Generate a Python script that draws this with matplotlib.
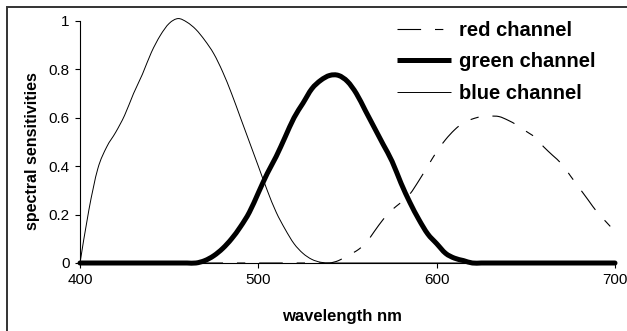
import matplotlib
matplotlib.use("Agg")
import matplotlib.pyplot as plt
import numpy as np
from matplotlib.lines import Line2D
from matplotlib.patches import PathPatch, Rectangle
from matplotlib.path import Path

plt.rcParams["font.family"] = ["Liberation Sans", "DejaVu Sans"]
plt.rcParams["lines.scale_dashes"] = False

# spectral sensitivities, sampled every 5 nm from 400 to 700
wavelength = list(range(400, 705, 5))

blue = [0.00, 0.22, 0.39, 0.48, 0.54, 0.61, 0.70, 0.78, 0.87, 0.94,
        0.99, 1.01, 0.995, 0.965, 0.92, 0.865, 0.79, 0.70, 0.60, 0.50,
        0.40, 0.30, 0.21, 0.14, 0.08, 0.04, 0.015, 0.003, 0.0] + [0.0] * 32

green = [0.0] * 14 + [0.01, 0.03, 0.06, 0.10, 0.15, 0.21, 0.29, 0.37, 0.44,
                      0.52, 0.60, 0.66, 0.72, 0.755, 0.775, 0.775, 0.75, 0.70,
                      0.63, 0.56, 0.49, 0.42, 0.33, 0.25, 0.18, 0.12, 0.08,
                      0.04, 0.02, 0.01, 0.0] + [0.0] * 16

red = [0.0] * 29 + [0.01, 0.03, 0.05, 0.08, 0.13, 0.18, 0.22, 0.25, 0.285,
                    0.34, 0.40, 0.46, 0.51, 0.55, 0.58, 0.595, 0.605, 0.607,
                    0.605, 0.59, 0.57, 0.545, 0.52, 0.48, 0.445, 0.41, 0.36,
                    0.31, 0.26, 0.21, 0.17, 0.13]

x_ticks = [400, 500, 600, 700]
y_ticks = [0, 0.2, 0.4, 0.6, 0.8, 1]
y_tick_labels = ["0", "0.2", "0.4", "0.6", "0.8", "1"]


def smooth_path(x, y):
    # Excel-style smoothed line: Catmull-Rom segments as cubic Bezier curves
    p = np.column_stack([x, y]).astype(float)
    ext = np.vstack([p[0], p, p[-1]])
    verts = [p[0]]
    codes = [Path.MOVETO]
    for i in range(len(p) - 1):
        p0, p1, p2, p3 = ext[i], ext[i + 1], ext[i + 2], ext[i + 3]
        verts += [p1 + (p2 - p0) / 6, p2 - (p3 - p1) / 6, p2]
        codes += [Path.CURVE4] * 3
    return Path(verts, codes)


W, H = 627, 331
fig = plt.figure(figsize=(W / 100, H / 100), dpi=100, facecolor="white")
ax = fig.add_axes([80 / W, 68 / H, 535 / W, 242 / H])

styles = [
    ("red channel", red, dict(lw=0.8, linestyle=(0, (17, 10, 6, 10)))),
    ("green channel", green, dict(lw=3.6, capstyle="round", joinstyle="round")),
    ("blue channel", blue, dict(lw=0.7)),
]
handles = []
for label, values, st in styles:
    ax.add_patch(PathPatch(smooth_path(wavelength, values), fill=False,
                           edgecolor="black", clip_on=False, **st))
    lst = st.get("linestyle", "-")
    handles.append(Line2D([], [], color="black", lw=st["lw"], linestyle=lst,
                          solid_capstyle="butt", label=label))

ax.set_xlim(400, 700)
ax.set_ylim(0, 1)
ax.set_xticks(x_ticks)
ax.set_yticks(y_ticks)
ax.set_yticklabels(y_tick_labels)
ax.tick_params(axis="both", direction="out", length=3.5, width=0.8,
               labelsize=11, colors="black", pad=4)
for side in ("top", "right"):
    ax.spines[side].set_visible(False)
for side in ("left", "bottom"):
    ax.spines[side].set_linewidth(0.8)

fig.text(342 / W, 1 - 317 / H, "wavelength nm", ha="center", va="center",
         fontsize=12, fontweight="bold")
fig.text(33 / W, 1 - 151 / H, "spectral sensitivities", ha="center",
         va="center", rotation=90, fontsize=11.5, fontweight="bold")

ax.legend(handles=handles, loc="upper left",
          bbox_to_anchor=(397 / W, 1 - 21 / H),
          bbox_transform=fig.transFigure, frameon=False, borderpad=0,
          borderaxespad=0, handlelength=2.7, handletextpad=0.4,
          labelspacing=0.62, prop={"size": 14.5, "weight": "bold"})

# outer chart-area border (runs off the right and bottom edges)
fig.patches.append(Rectangle((7 / W, -0.1), 1.0, 1 - 7 / H + 0.1,
                             transform=fig.transFigure, fill=False,
                             edgecolor="#333333", lw=1.4))

fig.savefig("out.png", dpi=100)
